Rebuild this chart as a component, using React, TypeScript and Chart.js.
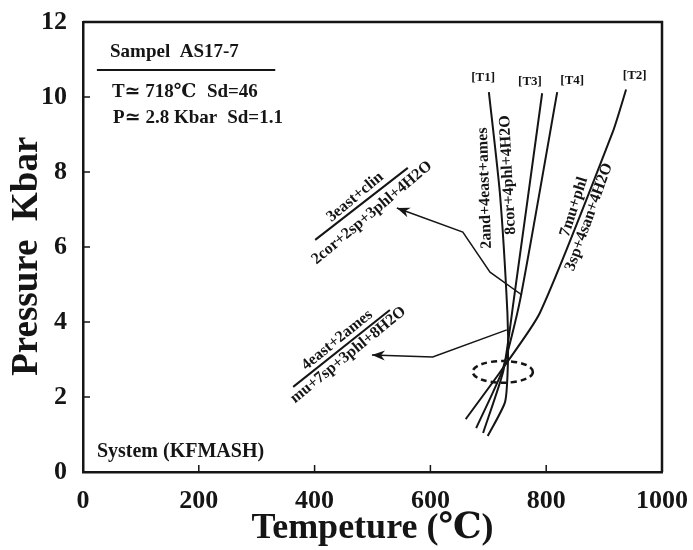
import React, { useEffect, useRef } from "react";
import { Chart, registerables } from "chart.js";
Chart.register(...registerables);

const FONT = "'Liberation Serif', 'Times New Roman', 'DejaVu Serif', serif";
const INK = "#151515";

// axis ticks
const xTickValues = [0, 200, 400, 600, 800, 1000];
const yTickValues = [0, 2, 4, 6, 8, 10, 12];

// reaction curves (Temperature °C, Pressure kbar)
const t1T = [701, 720, 733, 734, 729, 699];
const t1P = [10.13, 7.44, 4.24, 3.0, 1.87, 0.96];
const t3T = [793, 744, 726, 691];
const t3P = [10.1, 4.59, 2.7, 1.04];
const t4T = [819, 755, 724, 679];
const t4P = [10.13, 4.59, 2.7, 1.17];
const t2T = [938, 915, 789, 722, 661];
const t2P = [10.2, 9.07, 4.24, 2.7, 1.41];

// leader (arrow) lines
const leaderUpperT = [758, 703, 656, 542];
const leaderUpperP = [4.72, 5.33, 6.4, 7.04];
const leaderLowerT = [732, 604, 499];
const leaderLowerP = [3.79, 3.07, 3.12];

// reaction fraction bars
const barUpperT = [401, 561];
const barUpperP = [6.19, 8.11];
const barLowerT = [363, 530];
const barLowerP = [2.27, 4.32];

// estimated P-T point with uncertainty ellipse
const ellipseCenterT = 725;
const ellipseCenterP = 2.67;
const ellipseRadiusT = 52;
const ellipseRadiusP = 0.29;

const zip = (ts: number[], ps: number[]) => ts.map((t, i) => ({ x: t, y: ps[i] }));

type Label = { text: string; t: number; p: number; rot: number; size: number; align: CanvasTextAlign; base: CanvasTextBaseline };
const labels: Label[] = [
  { text: "Sampel  AS17-7", t: 46.6, p: 11.07, rot: 0, size: 19, align: "left", base: "alphabetic" },
  { text: "T\u2243 718\u2103", t: 50, p: 10.0, rot: 0, size: 19, align: "left", base: "alphabetic" },
  { text: "Sd=46", t: 214, p: 10.0, rot: 0, size: 19, align: "left", base: "alphabetic" },
  { text: "P\u2243 2.8 Kbar", t: 52, p: 9.31, rot: 0, size: 19, align: "left", base: "alphabetic" },
  { text: "Sd=1.1", t: 249, p: 9.31, rot: 0, size: 19, align: "left", base: "alphabetic" },
  { text: "System (KFMASH)", t: 24, p: 0.4, rot: 0, size: 20, align: "left", base: "alphabetic" },
  { text: "[T1]", t: 691, p: 10.51, rot: 0, size: 13, align: "center", base: "middle" },
  { text: "[T3]", t: 772, p: 10.4, rot: 0, size: 13, align: "center", base: "middle" },
  { text: "[T4]", t: 845, p: 10.43, rot: 0, size: 13, align: "center", base: "middle" },
  { text: "[T2]", t: 953, p: 10.56, rot: 0, size: 13, align: "center", base: "middle" },
  { text: "2and+4east+ames", t: 694, p: 7.57, rot: -92, size: 16, align: "center", base: "middle" },
  { text: "8cor+4phl+4H2O", t: 734, p: 7.92, rot: -93, size: 16, align: "center", base: "middle" },
  { text: "7mu+phl", t: 848, p: 7.07, rot: -72, size: 16, align: "center", base: "middle" },
  { text: "3sp+4san+4H2O", t: 874, p: 6.8, rot: -70, size: 16, align: "center", base: "middle" },
  { text: "3east+clin", t: 470, p: 7.33, rot: -40, size: 16, align: "center", base: "middle" },
  { text: "2cor+2sp+3phl+4H2O", t: 499, p: 6.91, rot: -40, size: 16, align: "center", base: "middle" },
  { text: "4east+2ames", t: 439, p: 3.52, rot: -39, size: 16, align: "center", base: "middle" },
  { text: "mu+7sp+3phl+8H2O", t: 458, p: 3.12, rot: -39, size: 16, align: "center", base: "middle" },
];

// divider under sample title (data units)
const boxRuleT = [24, 332];
const boxRuleP = 10.72;

const overlay = {
  id: "overlay",
  afterDatasetsDraw(chart: any) {
    const { ctx, chartArea: a, scales } = chart;
    const xs = scales.x;
    const ys = scales.y;
    const px = (v: number) => xs.getPixelForValue(v);
    const py = (v: number) => ys.getPixelForValue(v);
    ctx.save();
    ctx.strokeStyle = INK;
    ctx.fillStyle = INK;
    // top and right frame
    ctx.lineWidth = 2.5;
    ctx.beginPath();
    ctx.moveTo(a.left, a.top);
    ctx.lineTo(a.right, a.top);
    ctx.lineTo(a.right, a.bottom);
    ctx.stroke();
    // inward ticks
    ctx.lineWidth = 1.5;
    ctx.beginPath();
    xTickValues.slice(1, -1).forEach((v) => {
      ctx.moveTo(px(v), a.bottom);
      ctx.lineTo(px(v), a.bottom - 7);
    });
    yTickValues.slice(1, -1).forEach((v) => {
      ctx.moveTo(a.left, py(v));
      ctx.lineTo(a.left + 7, py(v));
    });
    ctx.stroke();
    // box rule
    ctx.lineWidth = 2;
    ctx.beginPath();
    ctx.moveTo(px(boxRuleT[0]), py(boxRuleP));
    ctx.lineTo(px(boxRuleT[1]), py(boxRuleP));
    ctx.stroke();
    // ellipse
    ctx.lineWidth = 2.5;
    ctx.setLineDash([6, 4]);
    ctx.beginPath();
    ctx.ellipse(
      px(ellipseCenterT),
      py(ellipseCenterP),
      px(ellipseCenterT + ellipseRadiusT) - px(ellipseCenterT),
      py(ellipseCenterP) - py(ellipseCenterP + ellipseRadiusP),
      0, 0, Math.PI * 2
    );
    ctx.stroke();
    ctx.setLineDash([]);
    // arrowheads
    const arrow = (ts: number[], ps: number[]) => {
      const n = ts.length;
      const x1 = px(ts[n - 2]), y1 = py(ps[n - 2]);
      const x2 = px(ts[n - 1]), y2 = py(ps[n - 1]);
      const ang = Math.atan2(y2 - y1, x2 - x1);
      const L = 13, W = 5;
      ctx.beginPath();
      ctx.moveTo(x2, y2);
      ctx.lineTo(x2 - L * Math.cos(ang) + W * Math.sin(ang), y2 - L * Math.sin(ang) - W * Math.cos(ang));
      ctx.lineTo(x2 - L * 0.7 * Math.cos(ang), y2 - L * 0.7 * Math.sin(ang));
      ctx.lineTo(x2 - L * Math.cos(ang) - W * Math.sin(ang), y2 - L * Math.sin(ang) + W * Math.cos(ang));
      ctx.closePath();
      ctx.fill();
    };
    arrow(leaderUpperT, leaderUpperP);
    arrow(leaderLowerT, leaderLowerP);
    // labels
    labels.forEach((l) => {
      ctx.save();
      ctx.translate(px(l.t), py(l.p));
      ctx.rotate((l.rot * Math.PI) / 180);
      ctx.font = `bold ${l.size}px ${FONT}`;
      ctx.textAlign = l.align;
      ctx.textBaseline = l.base;
      ctx.fillText(l.text, 0, 0);
      ctx.restore();
    });
    ctx.restore();
  },
};

export default function App() {
  const ref = useRef<HTMLCanvasElement | null>(null);
  useEffect(() => {
    if (!ref.current) return;
    const line = (ts: number[], ps: number[], w: number, tension = 0) => ({
      data: zip(ts, ps),
      showLine: true,
      borderColor: INK,
      borderWidth: w,
      pointRadius: 0,
      tension,
      fill: false,
    });
    const chart = new Chart(ref.current, {
      type: "scatter",
      data: {
        datasets: [
          line(t1T, t1P, 2, 0.2),
          line(t3T, t3P, 2, 0.2),
          line(t4T, t4P, 2, 0.2),
          line(t2T, t2P, 2, 0.2),
          line(leaderUpperT, leaderUpperP, 1.5),
          line(leaderLowerT, leaderLowerP, 1.5),
          line(barUpperT, barUpperP, 2),
          line(barLowerT, barLowerP, 2),
        ] as any,
      },
      options: {
        animation: false,
        responsive: false,
        layout: { autoPadding: false, padding: { top: 22, right: 31, left: 0, bottom: 0 } },
        plugins: { legend: { display: false }, tooltip: { enabled: false } },
        scales: {
          x: {
            type: "linear",
            min: 0,
            max: 1000,
            afterFit: (s: any) => { s.height = 78; s.paddingLeft = 0; s.paddingRight = 0; },
            afterBuildTicks: (s: any) => { s.ticks = xTickValues.map((v) => ({ value: v })); },
            ticks: { color: INK, padding: 14, font: { family: FONT, size: 26, weight: "bold" }, callback: (v: any) => String(v) },
            grid: { display: false, drawTicks: false },
            border: { display: true, color: INK, width: 2.5 },
            title: {
              display: true,
              text: "Tempeture (\u2103)",
              color: INK,
              font: { family: FONT, size: 36, weight: "bold" },
              padding: { top: 0, bottom: 0 },
            },
          },
          y: {
            type: "linear",
            min: 0,
            max: 12,
            afterFit: (s: any) => { s.width = 83; s.paddingTop = 0; s.paddingBottom = 0; },
            afterBuildTicks: (s: any) => { s.ticks = yTickValues.map((v) => ({ value: v })); },
            ticks: { color: INK, padding: 16, font: { family: FONT, size: 26, weight: "bold" }, callback: (v: any) => String(v) },
            grid: { display: false, drawTicks: false },
            border: { display: true, color: INK, width: 2.5 },
            title: {
              display: true,
              text: "Pressure  Kbar  ",
              color: INK,
              font: { family: FONT, size: 37, weight: "bold" },
              padding: { top: 5, bottom: 0 },
            },
          },
        },
      } as any,
      plugins: [overlay],
    });
    return () => chart.destroy();
  }, []);
  return (
    <div style={{ position: "absolute", left: 0, top: 0, width: 693, height: 550, background: "#fff" }}>
      <canvas ref={ref} width={693} height={550} style={{ display: "block" }} />
    </div>
  );
}
